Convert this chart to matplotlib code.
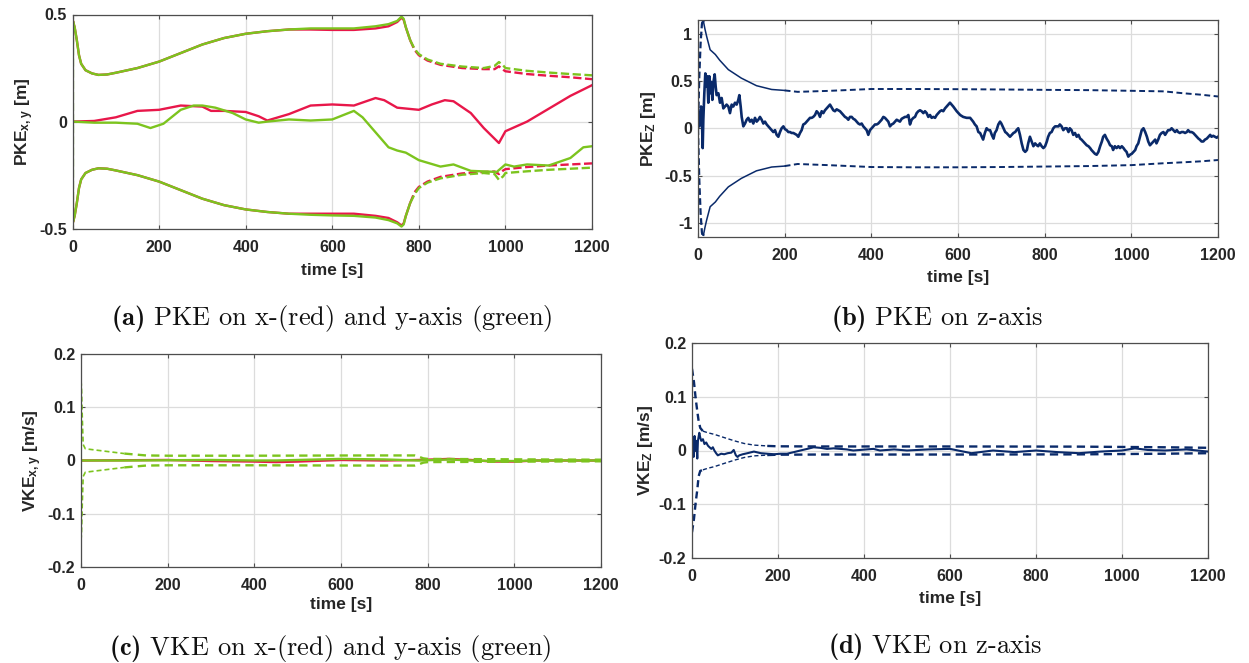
import numpy as np
import matplotlib
matplotlib.use("Agg")
import matplotlib.pyplot as plt
from matplotlib.ticker import FuncFormatter
from matplotlib.font_manager import FontProperties

plt.rcParams['axes.unicode_minus'] = False
plt.rcParams['mathtext.fontset'] = 'custom'
plt.rcParams['mathtext.rm'] = 'Liberation Sans:bold'
plt.rcParams['mathtext.it'] = 'Liberation Sans:bold'
plt.rcParams['mathtext.bf'] = 'cmb10'

# ---------------- data: panel (a) PKE x,y ----------------
t_a_bnd = [0, 1, 5, 10, 15, 20, 30, 45, 60, 80, 100, 150, 200, 250, 300, 350, 400, 450, 500,
           550, 600, 650, 700, 730, 750, 760, 765, 770, 780, 790, 800, 820, 850, 900, 950,
           975, 985, 995, 1000, 1050, 1100, 1150, 1200]
a_green_up = [0.0, 0.47, 0.44, 0.38, 0.31, 0.27, 0.24, 0.225, 0.218, 0.22, 0.228, 0.25, 0.28,
              0.32, 0.36, 0.39, 0.41, 0.422, 0.43, 0.435, 0.435, 0.435, 0.445, 0.455, 0.47,
              0.49, 0.48, 0.44, 0.38, 0.34, 0.315, 0.29, 0.27, 0.257, 0.25, 0.26, 0.278,
              0.262, 0.25, 0.237, 0.229, 0.222, 0.216]
a_red_up = [0.0, 0.47, 0.44, 0.38, 0.31, 0.27, 0.24, 0.225, 0.218, 0.22, 0.228, 0.25, 0.28,
            0.32, 0.36, 0.39, 0.41, 0.422, 0.43, 0.43, 0.428, 0.428, 0.435, 0.445, 0.465,
            0.485, 0.475, 0.44, 0.38, 0.335, 0.31, 0.285, 0.265, 0.25, 0.245, 0.245, 0.258,
            0.242, 0.235, 0.222, 0.214, 0.207, 0.198]
a_green_lo = [0.0, -0.47, -0.44, -0.38, -0.31, -0.27, -0.24, -0.225, -0.218, -0.22, -0.228,
              -0.25, -0.28, -0.32, -0.36, -0.39, -0.41, -0.422, -0.43, -0.435, -0.438, -0.44,
              -0.448, -0.46, -0.475, -0.49, -0.48, -0.44, -0.38, -0.34, -0.31, -0.285, -0.265,
              -0.248, -0.24, -0.245, -0.272, -0.255, -0.24, -0.232, -0.225, -0.22, -0.215]
a_red_lo = [0.0, -0.47, -0.44, -0.38, -0.31, -0.27, -0.24, -0.225, -0.218, -0.22, -0.228,
            -0.25, -0.28, -0.32, -0.36, -0.39, -0.41, -0.422, -0.43, -0.43, -0.43, -0.43,
            -0.44, -0.45, -0.47, -0.485, -0.475, -0.44, -0.38, -0.33, -0.305, -0.28, -0.258,
            -0.242, -0.235, -0.233, -0.245, -0.228, -0.222, -0.212, -0.205, -0.2, -0.195]

t_a_red = [0, 50, 100, 150, 200, 250, 300, 320, 350, 400, 430, 450, 500, 550, 600, 650, 700,
           720, 750, 800, 830, 860, 880, 920, 950, 985, 1000, 1050, 1100, 1150, 1200]
a_red = [0, 0.003, 0.02, 0.05, 0.055, 0.075, 0.07, 0.05, 0.05, 0.045, 0.025, 0.005, 0.035,
         0.075, 0.08, 0.075, 0.11, 0.1, 0.065, 0.055, 0.08, 0.1, 0.095, 0.04, -0.03, -0.1,
         -0.045, 0.0, 0.06, 0.12, 0.17]
t_a_green = [0, 50, 100, 150, 180, 210, 250, 280, 300, 330, 370, 400, 430, 450, 500, 550, 600,
             650, 670, 700, 730, 750, 770, 800, 850, 880, 920, 980, 1000, 1020, 1050, 1100,
             1150, 1180, 1200]
a_green = [0, -0.005, -0.005, -0.01, -0.03, -0.01, 0.055, 0.075, 0.075, 0.065, 0.04, 0.01,
           -0.005, 0.0, 0.01, 0.005, 0.01, 0.05, 0.02, -0.05, -0.12, -0.135, -0.145, -0.18,
           -0.21, -0.2, -0.23, -0.235, -0.2, -0.21, -0.2, -0.205, -0.17, -0.12, -0.115]

# ---------------- data: panel (b) PKE z ----------------
t_b_bnd = [0, 3, 6, 9, 11, 13, 16, 20, 28, 40, 50, 70, 100, 135, 170, 200, 230, 300, 400,
           500, 600, 700, 800, 900, 1000, 1075, 1120, 1160, 1200]
b_up = [0.0, 0.55, 0.9, 1.1, 1.15, 1.12, 1.05, 0.97, 0.83, 0.78, 0.72, 0.62, 0.53, 0.45,
        0.41, 0.40, 0.385, 0.395, 0.415, 0.415, 0.413, 0.41, 0.406, 0.403, 0.396, 0.39,
        0.37, 0.355, 0.336]
b_lo = [0.0, -0.55, -0.9, -1.1, -1.15, -1.12, -1.05, -0.97, -0.83, -0.78, -0.72, -0.62,
        -0.53, -0.45, -0.41, -0.40, -0.378, -0.39, -0.41, -0.413, -0.413, -0.41, -0.405,
        -0.4, -0.39, -0.37, -0.36, -0.35, -0.336]

t_b = [0, 1.5, 3, 5.4, 7, 8.5, 10.8, 12.3, 14.6, 16.9, 19.2, 21.5, 23.8, 26.2, 28.5, 30.8,
       33.1, 35.4, 38.5, 40.8, 43, 47, 50.8, 54.6, 58.5, 62.3, 66, 70, 73.8, 77.7, 81.5, 85.4,
       89.2, 93, 95.4, 98.5, 100.8, 104.6, 108.5, 112.3, 116, 120, 123.8, 127.7, 131.5,
       135.4, 139.2, 143, 147, 150.8, 154.6, 158.5, 162.3, 166, 170, 173.8, 177.7, 181.5,
       185.4, 189.2, 193, 197, 200.8, 204.6, 208.5, 212.3, 216, 220, 223.8, 227.7, 231.5,
       235.4, 239.2, 243, 247, 250.8, 254.6, 258.5, 262.3, 266, 270, 273.8, 277.7, 281.5,
       285.4, 289.2, 293, 296.9, 300.8, 304.6, 308.5, 312.3, 316, 320, 323.8, 327.7, 331.5,
       335.4, 339.2, 343, 346.9, 350.8, 354.6, 358.5, 362.3, 366, 370, 373.8, 377.7, 381.5,
       385.4, 389.2, 393, 396.9, 400.8, 404.6, 408.5, 412.3, 416, 420, 423.8, 427.7, 431.5,
       435.4, 439.2, 443, 446.9, 450.8, 454.6, 458.5, 462.3, 466, 470, 473.8, 477.7, 481.5,
       485.4, 489.2, 493, 497, 500.8, 504.6, 508.5, 512.3, 516, 520, 523.8, 527.7, 531.5,
       535.4, 539.2, 543, 547, 550.8, 554.6, 558.5, 562.3, 566, 570, 573.8, 577.7, 581.5,
       589, 597, 605, 612, 620, 628, 635, 639, 643, 647, 651, 655, 658, 662, 666, 670, 674,
       678, 682, 685, 689, 693, 697, 700, 705, 709, 712, 716, 720, 724, 728, 732, 735, 739,
       743, 747, 751, 755, 759, 762, 766, 770, 774, 778, 782, 785, 789, 793, 797, 801, 805,
       808, 812, 816, 820, 824, 828, 832, 835, 839, 843, 847, 851, 855, 858, 862, 866, 870,
       874, 878, 882, 885, 889, 893, 897, 901, 905, 908, 912, 916, 920, 924, 928, 932, 935,
       939, 943, 947, 951, 955, 958, 962, 966, 970, 974, 978, 982, 985, 989, 993, 997, 1001,
       1005, 1009, 1012, 1016, 1020, 1024, 1028, 1032, 1036, 1039, 1043, 1047, 1051, 1055,
       1058, 1062, 1066, 1070, 1074, 1078, 1082, 1085, 1089, 1093, 1097, 1101, 1105, 1108,
       1112, 1116, 1120, 1124, 1128, 1131, 1135, 1139, 1143, 1147, 1151, 1155, 1158, 1162,
       1166, 1170, 1174, 1178, 1182, 1185, 1189, 1193, 1197, 1200]
b_z = [0.19, 0.05, 0.02, 0.12, 0.23, 0.19, -0.21, 0.09, 0.37, 0.58, 0.44, 0.55, 0.27, 0.55,
       0.37, 0.49, 0.30, 0.48, 0.57, 0.44, 0.35, 0.37, 0.27, 0.32, 0.21, 0.23, 0.25, 0.23,
       0.16, 0.25, 0.23, 0.27, 0.25, 0.30, 0.35, 0.23, 0.12, 0.02, 0.05, 0.09, 0.11, 0.07,
       0.09, 0.05, 0.11, 0.07, 0.09, 0.12, 0.09, 0.05, 0.07, 0.04, 0.02, 0.0, -0.02, -0.04,
       -0.02, -0.07, -0.09, -0.04, 0.0, 0.02, -0.01, -0.02, -0.04, -0.04, -0.05, -0.05, -0.06,
       -0.07, -0.09, -0.05, -0.02, 0.04, 0.05, 0.07, 0.09, 0.11, 0.11, 0.12, 0.14, 0.18, 0.16,
       0.12, 0.18, 0.16, 0.19, 0.21, 0.23, 0.25, 0.22, 0.19, 0.18, 0.20, 0.19, 0.18, 0.16,
       0.14, 0.12, 0.11, 0.09, 0.12, 0.12, 0.10, 0.09, 0.07, 0.05, 0.04, 0.05, 0.02, 0.0,
       -0.02, -0.07, -0.02, 0.0, 0.02, 0.04, 0.04, 0.05, 0.07, 0.09, 0.12, 0.11, 0.09, 0.07,
       0.02, 0.04, 0.05, 0.07, 0.09, 0.08, 0.07, 0.10, 0.11, 0.12, 0.12, 0.14, 0.04, 0.09,
       0.11, 0.12, 0.16, 0.18, 0.19, 0.18, 0.16, 0.18, 0.16, 0.12, 0.14, 0.11, 0.12, 0.11,
       0.14, 0.16, 0.18, 0.19, 0.18, 0.21, 0.23, 0.25, 0.27, 0.23, 0.18, 0.14, 0.12, 0.11,
       0.11, 0.07, 0.04, 0.02, -0.04, -0.05, -0.09, -0.12, -0.05, 0.0, -0.02, -0.02, -0.07,
       -0.11, -0.05, -0.02, 0.04, 0.07, 0.05, 0.0, -0.04, -0.05, -0.07, -0.09, -0.07, -0.05,
       -0.04, -0.02, 0.0, -0.07, -0.16, -0.23, -0.25, -0.23, -0.16, -0.09, -0.14, -0.19,
       -0.16, -0.18, -0.19, -0.16, -0.19, -0.21, -0.19, -0.14, -0.09, -0.05, -0.04, 0.0, 0.02,
       0.02, 0.02, 0.04, 0.02, -0.02, 0.0, 0.0, -0.04, 0.0, -0.02, -0.07, -0.05, -0.09, -0.07,
       -0.11, -0.12, -0.14, -0.16, -0.18, -0.19, -0.21, -0.23, -0.25, -0.27, -0.28, -0.25,
       -0.19, -0.14, -0.09, -0.07, -0.11, -0.14, -0.18, -0.19, -0.23, -0.19, -0.21, -0.19,
       -0.21, -0.19, -0.21, -0.23, -0.25, -0.30, -0.28, -0.27, -0.25, -0.23, -0.19, -0.16,
       -0.09, -0.02, 0.0, -0.04, -0.09, -0.14, -0.18, -0.16, -0.14, -0.12, -0.16, -0.12,
       -0.07, -0.05, -0.04, -0.07, -0.04, -0.02, -0.02, 0.0, -0.02, -0.04, -0.02, -0.04,
       -0.05, -0.04, -0.04, -0.05, -0.04, -0.02, -0.04, -0.04, -0.05, -0.07, -0.09, -0.11,
       -0.12, -0.14, -0.14, -0.12, -0.11, -0.09, -0.07, -0.09, -0.08, -0.09, -0.10, -0.09]

# ---------------- data: panel (c) VKE x,y ----------------
t_c_bnd = [0, 1, 3, 5, 10, 20, 30, 50, 80, 100, 150, 200, 300, 400, 500, 600, 700, 770, 780,
           790, 800, 850, 900, 1000, 1100, 1200]
c_up = [0.15, 0.14, 0.08, 0.03, 0.022, 0.021, 0.02, 0.018, 0.015, 0.013, 0.0095, 0.009,
        0.009, 0.009, 0.0092, 0.0094, 0.0095, 0.0095, 0.007, 0.004, 0.003, 0.0028, 0.0026,
        0.0022, 0.0018, 0.0015]
c_lo = [-0.15, -0.14, -0.08, -0.03, -0.022, -0.021, -0.02, -0.018, -0.015, -0.013, -0.0095,
        -0.009, -0.009, -0.009, -0.0092, -0.0094, -0.0095, -0.0095, -0.007, -0.004, -0.003,
        -0.0028, -0.0026, -0.0022, -0.0018, -0.0015]
t_c = [0, 100, 200, 300, 400, 450, 500, 600, 700, 780, 850, 900, 950, 1000, 1050, 1100, 1200]
c_red = [0, 0.0005, 0.001, -0.001, -0.002, -0.003, -0.002, 0.001, 0.0, 0.001, 0.003, 0.001,
         -0.002, -0.002, 0.0, 0.0, 0.0]
c_green = [0, 0.0, 0.0005, 0.001, 0.0, 0.0, 0.001, 0.003, 0.002, 0.0, 0.002, 0.0, -0.001,
           -0.001, 0.0, 0.0, 0.0]

# ---------------- data: panel (d) VKE z ----------------
t_d_bnd = [0, 4.6, 8.5, 12.3, 15.4, 19.2, 25.4, 37, 52, 75, 98.5, 121.5, 144.6, 175, 200,
           300, 600, 900, 1100, 1200]
d_up = [0.152, 0.127, 0.097, 0.073, 0.055, 0.042, 0.036, 0.033, 0.030, 0.024, 0.018, 0.013,
        0.010, 0.0085, 0.0078, 0.0075, 0.0075, 0.0072, 0.006, 0.005]
d_lo = [-0.152, -0.127, -0.097, -0.073, -0.048, -0.038, -0.036, -0.033, -0.030, -0.024,
        -0.018, -0.013, -0.010, -0.0085, -0.0078, -0.0075, -0.0075, -0.0072, -0.006, -0.005]
t_d = [0, 2.3, 3.8, 6, 7.7, 10, 12.3, 13.8, 17, 19.2, 21.5, 25.4, 29, 33, 37, 40.8, 45, 48.5,
       52, 56, 60, 68, 75, 83, 91.5, 97, 102, 106, 110, 118, 129, 144, 160, 175, 191, 206,
       221, 237, 252, 268, 283, 298, 314, 329, 345, 360, 375, 391, 406, 422, 437, 470, 500,
       550, 600, 650, 700, 750, 800, 850, 900, 950, 1000, 1030, 1060, 1100, 1150, 1200]
d_z = [0, 0.024, -0.012, 0.027, 0.0, 0.018, -0.015, 0.018, 0.033, 0.024, 0.018, 0.021,
       0.012, 0.015, 0.009, 0.006, 0.003, 0.006, 0.0, -0.005, -0.009, -0.006, -0.007, -0.005,
       -0.004, 0.001, -0.009, -0.012, -0.009, -0.007, -0.005, -0.002, -0.005, -0.006, -0.007,
       -0.006, -0.006, -0.003, 0.0, 0.003, 0.006, 0.005, 0.003, 0.004, 0.003, 0.002, 0.0,
       0.001, 0.002, 0.003, 0.0, 0.002, 0.0, 0.002, 0.003, -0.005, 0.0, -0.003, 0.0, -0.003,
       -0.005, -0.002, 0.0, 0.004, 0.001, 0.0, 0.002, -0.002]

# ---------------- styling ----------------
RED = '#E8174A'
GREEN = '#7CC41E'
NAVY = '#0A2A6A'
TICKFP = FontProperties(family='Liberation Sans', weight='bold', size=11.5)
LABELFONT = dict(family='Liberation Sans', weight='bold', size=12.5)

fig = plt.figure(figsize=(12.49, 6.63), dpi=100)

def style(ax, ylim, yticks, ylabel, labelpad=4, xlabelpad=5):
    ax.set_xlim(0, 1200)
    ax.set_ylim(*ylim)
    ax.set_xticks([0, 200, 400, 600, 800, 1000, 1200])
    ax.set_yticks(yticks)
    fmt = FuncFormatter(lambda v, p: '%g' % round(v, 6))
    ax.xaxis.set_major_formatter(fmt)
    ax.yaxis.set_major_formatter(fmt)
    ax.grid(True, color='#dcdcdc', lw=0.9)
    ax.set_axisbelow(True)
    for s in ax.spines.values():
        s.set_color('#4d4d4d')
        s.set_linewidth(0.9)
    ax.tick_params(direction='in', length=3, width=0.8, color='#4d4d4d',
                   top=True, right=True)
    ax.tick_params(axis='x', pad=8)
    ax.tick_params(axis='y', pad=4)
    for lab in ax.get_xticklabels() + ax.get_yticklabels():
        lab.set_fontproperties(TICKFP)
        lab.set_color('#262626')
    ax.set_xlabel('time [s]', fontdict=LABELFONT, color='#262626', labelpad=xlabelpad)
    ax.set_ylabel(ylabel, fontdict=LABELFONT, color='#262626', labelpad=labelpad)

W, H = 1249.0, 663.0
def axbox(l, t, r, b):
    return fig.add_axes([l / W, 1 - b / H, (r - l) / W, (b - t) / H])

# (a)
ax = axbox(72.5, 14.5, 592, 228.7)
ta = np.array(t_a_bnd)
split = ta <= 780
for up, lo, col in [(a_red_up, a_red_lo, RED), (a_green_up, a_green_lo, GREEN)]:
    up = np.array(up); lo = np.array(lo)
    for arr in (up, lo):
        ax.plot(ta[split], arr[split], color=col, lw=1.7, solid_capstyle='butt')
        ax.plot(ta[ta >= 780], arr[ta >= 780], color=col, lw=1.7, ls=(0, (3.5, 1.5)))
ax.plot([0, 0], [-0.47, 0.47], color=GREEN, lw=1.6, ls=(0, (3.5, 1.5)))
ax.plot(t_a_red, a_red, color=RED, lw=1.7)
ax.plot(t_a_green, a_green, color=GREEN, lw=1.7)
style(ax, (-0.5, 0.5), [-0.5, 0, 0.5], r'PKE$_{\rm x,y}$ [m]', labelpad=2, xlabelpad=6)

# (b)
ax = axbox(698, 19.5, 1218, 237)
tb = np.array(t_b_bnd)
for arr in (np.array(b_up), np.array(b_lo)):
    m1 = tb <= 13
    m2 = (tb >= 13) & (tb <= 200)
    m3 = tb >= 200
    ax.plot(tb[m1], arr[m1], color=NAVY, lw=1.6, ls=(0, (3, 1.5)))
    ax.plot(tb[m2], arr[m2], color=NAVY, lw=1.1)
    ax.plot(tb[m3], arr[m3], color=NAVY, lw=1.4, ls=(0, (3, 1.8)))
ax.plot(t_b, b_z, color=NAVY, lw=1.9)
style(ax, (-1.15, 1.15), [-1, -0.5, 0, 0.5, 1], r'PKE$_{\rm Z}$ [m]', labelpad=5)

# (c)
ax = axbox(81, 354, 601, 567)
tc = np.array(t_c_bnd)
ax.plot(t_c, c_red, color=RED, lw=1.7)
ax.plot(t_c, c_green, color=GREEN, lw=1.7)
for arr in (np.array(c_up), np.array(c_lo)):
    m1 = tc <= 100
    m2 = tc >= 100
    ax.plot(tc[m1], arr[m1], color=GREEN, lw=1.2, ls=(0, (3, 1.8)))
    ax.plot(tc[m2], arr[m2], color=GREEN, lw=1.7, ls=(0, (3.5, 2.2)))
style(ax, (-0.2, 0.2), [-0.2, -0.1, 0, 0.1, 0.2], r'VKE$_{\rm x,y}$ [m/s]', labelpad=3,
      xlabelpad=3)

# (d)
ax = axbox(692, 343, 1208, 558)
td = np.array(t_d_bnd)
for arr in (np.array(d_up), np.array(d_lo)):
    m1 = td <= 25.4
    m2 = (td >= 25.4) & (td <= 175)
    m3 = td >= 175
    ax.plot(td[m1], arr[m1], color=NAVY, lw=1.7, ls=(0, (3, 1.8)))
    ax.plot(td[m2], arr[m2], color=NAVY, lw=1.0, ls=(0, (3, 1.8)))
    ax.plot(td[m3], arr[m3], color=NAVY, lw=1.7, ls=(0, (3.5, 2.2)))
ax.plot(t_d, d_z, color=NAVY, lw=1.5)
style(ax, (-0.2, 0.2), [-0.2, -0.1, 0, 0.1, 0.2], r'VKE$_{\rm Z}$ [m/s]', labelpad=3)

# captions
CAP = dict(family='cmr10', size=19, ha='center', va='center', color='#111111')
fig.text(332 / W, 1 - 318 / H, r'$\mathbf{(a)}$ PKE on x-(red) and y-axis (green)', **CAP)
fig.text(937 / W, 1 - 318 / H, r'$\mathbf{(b)}$ PKE on z-axis', **CAP)
fig.text(330 / W, 1 - 648 / H, r'$\mathbf{(c)}$ VKE on x-(red) and y-axis (green)', **CAP)
fig.text(935 / W, 1 - 647 / H, r'$\mathbf{(d)}$ VKE on z-axis', **CAP)

fig.savefig('out.png', dpi=100, facecolor='white')
